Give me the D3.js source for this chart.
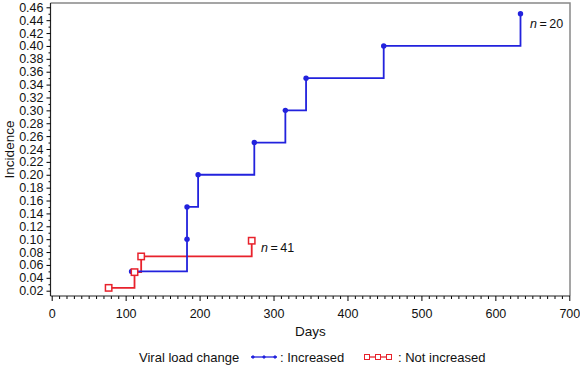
<!DOCTYPE html>
<html>
<head>
<meta charset="utf-8">
<script src="https://cdn.jsdelivr.net/npm/d3@7"></script>
<style>
  body { margin: 0; background: #fff; }
  svg { font-family: "Liberation Sans", Arial, Helvetica, sans-serif; }
</style>
</head>
<body>
<svg id="drawing_region"></svg>
<script>
// cumulative incidence
var incDays = [108, 183, 183, 198, 274, 316, 344, 449, 634];
var incValues = [0.05, 0.10, 0.15, 0.20, 0.25, 0.30, 0.35, 0.40, 0.45];
var notDays = [77, 112, 121, 270.5];
var notValues = [0.0244, 0.0488, 0.0732, 0.0976];
var xTicks = [0, 100, 200, 300, 400, 500, 600, 700];
var yTicks = [0.02, 0.04, 0.06, 0.08, 0.10, 0.12, 0.14, 0.16, 0.18, 0.20, 0.22, 0.24,
              0.26, 0.28, 0.30, 0.32, 0.34, 0.36, 0.38, 0.40, 0.42, 0.44, 0.46];
var nLabels = ["20", "41"];

var width = 580;
var height = 368;
var top_ = 3, bottom = 296, left = 50.5, right = 570;

var blue = "#2222dd";
var red = "#e8222c";

var svg = d3.select('#drawing_region')
    .attr('width', width)
    .attr('height', height);

var x = d3.scaleLinear().domain([0, 700]).range([51.7, 569.3]);
var y = d3.scaleLinear().domain([0.02, 0.46]).range([290.7, 7.3]);

// frame
svg.append('path')
    .attr('d', `M${left},${top_}H${right}V${bottom}`)
    .attr('fill', 'none')
    .attr('stroke', '#888')
    .attr('stroke-width', 1.5);

// minor ticks
var yMinor = yTicks.map(v => v + 0.01).filter(v => y(v) > top_);
svg.append('g')
    .attr('transform', `translate(${left},0)`)
    .call(d3.axisLeft(y).tickValues(yMinor).tickSize(2).tickFormat(''))
    .call(g => g.select('.domain').remove());

var xMinor = d3.range(0, 71).map(i => i * 10).filter(v => v % 100 !== 0);
svg.append('g')
    .attr('transform', `translate(0,${bottom})`)
    .call(d3.axisBottom(x).tickValues(xMinor).tickSize(3).tickFormat(''))
    .call(g => g.select('.domain').remove());

// axes
var yAxis = svg.append('g')
    .attr('transform', `translate(${left},0)`)
    .call(d3.axisLeft(y).tickValues(yTicks).tickSize(4).tickPadding(3).tickFormat(d3.format('.2f')));
yAxis.select('.domain').attr('d', `M0,${top_}V${bottom}`).attr('stroke', '#222').attr('stroke-width', 1.2);
yAxis.selectAll('text').style('font-size', '12.5px').attr('fill', '#111');

var xAxis = svg.append('g')
    .attr('transform', `translate(0,${bottom})`)
    .call(d3.axisBottom(x).tickValues(xTicks).tickSize(5).tickPadding(8));
xAxis.select('.domain').attr('d', `M${left},0H${right}`).attr('stroke', '#222').attr('stroke-width', 1.2);
xAxis.selectAll('text').style('font-size', '12.5px').attr('fill', '#111');

// axis titles
svg.append('text')
    .attr('transform', `translate(14,${(top_ + bottom) / 2}) rotate(-90)`)
    .attr('text-anchor', 'middle')
    .style('font-size', '13.5px')
    .attr('fill', '#111')
    .text('Incidence');

svg.append('text')
    .attr('x', x(350))
    .attr('y', 336)
    .attr('text-anchor', 'middle')
    .style('font-size', '13.5px')
    .attr('fill', '#111')
    .text('Days');

// step curves
var line = d3.line()
    .x(d => x(d[0]))
    .y(d => y(d[1]))
    .curve(d3.curveStepAfter);

var notData = d3.zip(notDays, notValues);
var incData = d3.zip(incDays, incValues);

svg.append('path')
    .datum(notData)
    .attr('d', line)
    .attr('fill', 'none')
    .attr('stroke', red)
    .attr('stroke-width', 1.8);

svg.append('path')
    .datum(incData)
    .attr('d', line)
    .attr('fill', 'none')
    .attr('stroke', blue)
    .attr('stroke-width', 1.8);

svg.selectAll('.incDot')
    .data(incData)
    .enter()
    .append('circle')
    .attr('class', 'incDot')
    .attr('cx', d => x(d[0]))
    .attr('cy', d => y(d[1]))
    .attr('r', 2.7)
    .attr('fill', blue);

svg.selectAll('.notSq')
    .data(notData)
    .enter()
    .append('rect')
    .attr('class', 'notSq')
    .attr('x', d => x(d[0]) - 3.2)
    .attr('y', d => y(d[1]) - 3.2)
    .attr('width', 6.4)
    .attr('height', 6.4)
    .attr('fill', '#fff')
    .attr('stroke', red)
    .attr('stroke-width', 1.5);

// n labels
function nLabel(px, py, n) {
    var t = svg.append('text')
        .attr('x', px)
        .attr('y', py)
        .style('font-size', '12.5px')
        .attr('fill', '#111');
    t.append('tspan').style('font-style', 'italic').text('n');
    t.append('tspan').text('\u2009=\u2009' + n);
}
nLabel(530, 28, nLabels[0]);
nLabel(261, 252, nLabels[1]);

// legend
var ly = 357;
svg.append('text')
    .attr('x', 139)
    .attr('y', ly + 4.5)
    .style('font-size', '13px')
    .attr('fill', '#111')
    .text('Viral load change');

svg.append('line')
    .attr('x1', 251).attr('x2', 277).attr('y1', ly).attr('y2', ly)
    .attr('stroke', blue).attr('stroke-width', 1.3);
svg.selectAll('.legDia')
    .data([253, 264, 275])
    .enter()
    .append('path')
    .attr('class', 'legDia')
    .attr('d', d => `M${d},${ly - 2}L${d + 2},${ly}L${d},${ly + 2}L${d - 2},${ly}Z`)
    .attr('fill', blue);
svg.append('text')
    .attr('x', 280)
    .attr('y', ly + 4.5)
    .style('font-size', '13px')
    .attr('fill', '#111')
    .text(': Increased');

svg.append('line')
    .attr('x1', 365).attr('x2', 391).attr('y1', ly).attr('y2', ly)
    .attr('stroke', red).attr('stroke-width', 1.3);
svg.selectAll('.legSq')
    .data([367, 378, 389])
    .enter()
    .append('rect')
    .attr('class', 'legSq')
    .attr('x', d => d - 2.5)
    .attr('y', ly - 2.5)
    .attr('width', 5)
    .attr('height', 5)
    .attr('fill', '#fff')
    .attr('stroke', red)
    .attr('stroke-width', 1);
svg.append('text')
    .attr('x', 398)
    .attr('y', ly + 4.5)
    .style('font-size', '13px')
    .attr('fill', '#111')
    .text(': Not increased');
</script>
</body>
</html>
